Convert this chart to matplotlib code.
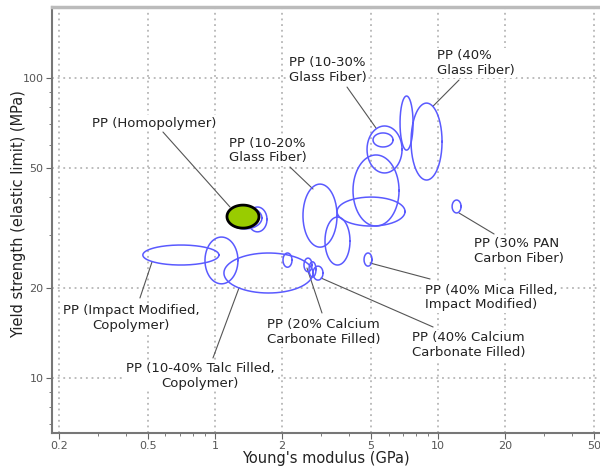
import matplotlib
matplotlib.use('Agg')
import matplotlib.pyplot as plt
import numpy as np

# ellipse extents: (E min, E max) in GPa, (yield min, yield max) in MPa
e_lo = [0.475, 0.902, 1.097, 2.018, 2.506, 2.640, 2.751, 2.48, 3.113, 3.525,
        4.157, 4.804, 5.111, 6.754, 7.568, 4.658, 11.56, 1.144, 1.406]
e_hi = [1.042, 1.268, 2.751, 2.215, 2.723, 2.837, 3.050, 3.525, 4.03, 7.112,
        6.685, 6.896, 6.284, 7.726, 10.42, 5.058, 12.68, 1.624, 1.711]
s_lo = [23.8, 20.6, 19.2, 23.4, 22.6, 21.7, 21.2, 27.3, 23.8, 32.1,
        32.1, 48.25, 58.9, 57.5, 45.7, 23.6, 35.5, 31.4, 30.7]
s_hi = [27.75, 29.5, 26.1, 26.1, 25.1, 24.4, 23.6, 44.3, 34.4, 40.1,
        55.4, 69.2, 65.6, 87.1, 82.5, 26.1, 39.2, 37.15, 37.15]

# highlighted material (homopolymer)
hl_e = (1.132, 1.575)
hl_s = (31.6, 37.7)

labels = ['PP (Homopolymer)',
          'PP (10-20%\nGlass Fiber)',
          'PP (10-30%\nGlass Fiber)',
          'PP (40%\nGlass Fiber)',
          'PP (30% PAN\nCarbon Fiber)',
          'PP (40% Mica Filled,\nImpact Modified)',
          'PP (40% Calcium\nCarbonate Filled)',
          'PP (20% Calcium\nCarbonate Filled)',
          'PP (Impact Modified,\nCopolymer)',
          'PP (10-40% Talc Filled,\nCopolymer)']

# label layout: text anchor, horizontal alignment, leader start, leader end
lab_xy = [(0.5355, 70.8), (1.156, 57.3), (2.147, 106.3), (9.90, 112.2),
          (14.5, 26.5), (8.74, 18.55), (7.64, 12.88), (1.711, 14.23),
          (0.4222, 15.85), (0.8565, 10.15)]
lab_ha = ['center', 'left', 'left', 'left', 'left', 'left', 'left', 'left',
          'center', 'center']
lead_a = [(0.5846, 66.07), (2.169, 50.5), (3.908, 93.3), (12.42, 98.5),
          (17.83, 30.2), (9.21, 21.38), (9.50, 14.79), (3.018, 16.47),
          (0.461, 18.48), (0.9796, 11.66)]
lead_b = [(1.168, 37.15), (2.751, 42.66), (5.272, 68.1), (9.50, 80.6),
          (12.42, 35.48), (4.956, 24.17), (2.988, 21.54), (2.585, 23.26),
          (0.522, 24.36), (1.281, 19.95)]


def ellipse_pts(lo_x, hi_x, lo_y, hi_y, n=200):
    # ellipse drawn in log-log space
    t = np.linspace(0, 2 * np.pi, n)
    cx, ax_ = (np.log10(lo_x) + np.log10(hi_x)) / 2, (np.log10(hi_x) - np.log10(lo_x)) / 2
    cy, ay = (np.log10(lo_y) + np.log10(hi_y)) / 2, (np.log10(hi_y) - np.log10(lo_y)) / 2
    return 10 ** (cx + ax_ * np.cos(t)), 10 ** (cy + ay * np.sin(t))


fig = plt.figure(figsize=(6, 4.72), dpi=100)
ax = fig.add_axes([52 / 600, 39 / 472, 548 / 600, 426 / 472])
ax.set_xscale('log')
ax.set_yscale('log')
ax.set_xlim(0.186, 53.2)
ax.set_ylim(6.555, 172.5)

for a, b, c, d in zip(e_lo, e_hi, s_lo, s_hi):
    x, y = ellipse_pts(a, b, c, d)
    ax.plot(x, y, color='#5a5aff', lw=1.1, zorder=3)

x, y = ellipse_pts(hl_e[0], hl_e[1], hl_s[0], hl_s[1])
ax.fill(x, y, facecolor='#99cc00', edgecolor='black', lw=2, zorder=4)

for a, b in zip(lead_a, lead_b):
    ax.annotate('', xy=b, xytext=a,
                arrowprops=dict(arrowstyle='-', color='#555555', lw=0.8,
                                shrinkA=0, shrinkB=0), zorder=2)

for txt, xy, ha in zip(labels, lab_xy, lab_ha):
    ax.text(xy[0], xy[1], txt, ha=ha, va='center', multialignment=ha,
            fontsize=9.5, color='#222222', linespacing=1.15, zorder=5,
            bbox=dict(facecolor='white', edgecolor='none', pad=1))

xt = [0.2, 0.5, 1, 2, 5, 10, 20, 50]
yt = [10, 20, 50, 100]
ax.set_xticks(xt)
ax.set_xticklabels(['0.2', '0.5', '1', '2', '5', '10', '20', '50'])
ax.set_yticks(yt)
ax.set_yticklabels(['10', '20', '50', '100'])
ax.tick_params(which='major', length=4, color='#666666', labelsize=8,
               labelcolor='#555555', pad=2)
ax.tick_params(which='minor', length=2, color='#666666', labelleft=False,
               labelbottom=False)
ax.grid(True, which='major', linestyle=(0, (1.2, 2.5)), color='#aaaaaa', lw=1.1)
ax.set_axisbelow(True)

for s in ['left', 'bottom']:
    ax.spines[s].set_color('#777777')
    ax.spines[s].set_linewidth(1.5)
ax.spines['top'].set_color('#bbbbbb')
ax.spines['top'].set_linewidth(2.5)
ax.spines['right'].set_visible(False)

ax.set_xlabel("Young's modulus (GPa)", fontsize=10.5, color='#222222',
              va='center')
ax.xaxis.set_label_coords(0.5, -0.061)
ax.set_ylabel('Yield strength (elastic limit) (MPa)', fontsize=10.5,
              color='#222222', va='center')
ax.yaxis.set_label_coords(-0.062, 0.514)

fig.savefig('out.png', dpi=100)
